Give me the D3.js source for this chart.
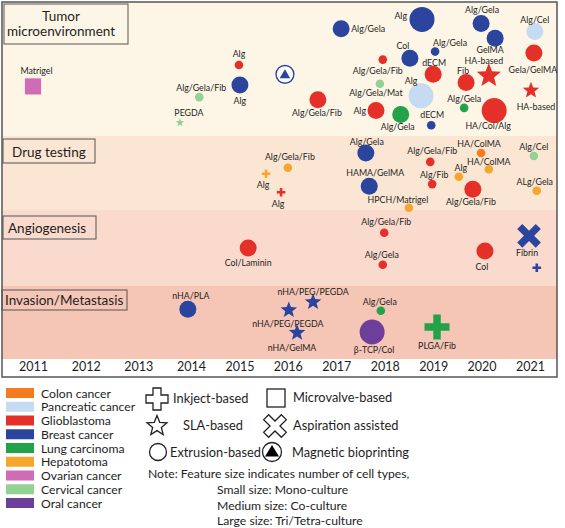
<!DOCTYPE html>
<html><head><meta charset="utf-8">
<script src="https://cdn.jsdelivr.net/npm/d3@7"></script>
<style>body{margin:0;background:#fff} svg{display:block} text{font-family:Lato,"Open Sans",sans-serif}</style>
</head><body><svg id="c" width="565" height="528"></svg>
<script>
// ---------------- DATA ----------------
const yearTicks = [2011,2012,2013,2014,2015,2016,2017,2018,2019,2020,2021];
const applications = ["Tumor microenvironment","Drug testing","Angiogenesis","Invasion/Metastasis"];
const cancerTypes = ["Colon cancer","Pancreatic cancer","Glioblastoma","Breast cancer","Lung carcinoma","Hepatotoma","Ovarian cancer","Cervical cancer","Oral cancer"];
const techniques = ["Inkject-based","Microvalve-based","SLA-based","Aspiration assisted","Extrusion-based","Magnetic bioprinting"];
const cultures = ["Mono-culture","Co-culture","Tri/Tetra-culture"];
const noteLines = ["Note: Feature size indicates number of cell types,","Small size: Mono-culture","Medium size: Co-culture","Large size: Tri/Tetra-culture"];

// records: [label, year, lane within band (0 top .. 1 bottom), cancer, technique, culture index]
const tumorMicroenvironment = [
 ["Matrigel",2011.0,0.63,"Ovarian cancer","Microvalve-based",1],
 ["PEGDA",2013.79,0.90,"Cervical cancer","SLA-based",0],
 ["Alg/Gela/Fib",2014.17,0.71,"Cervical cancer","Extrusion-based",0],
 ["Alg",2014.99,0.47,"Glioblastoma","Extrusion-based",0],
 ["Alg",2015.01,0.62,"Breast cancer","Extrusion-based",1],
 ["",2015.94,0.54,"Breast cancer","Magnetic bioprinting",1],
 ["Alg/Gela",2017.10,0.20,"Breast cancer","Extrusion-based",1],
 ["Alg/Gela/Fib",2016.62,0.73,"Glioblastoma","Extrusion-based",1],
 ["Alg",2017.82,0.81,"Glioblastoma","Extrusion-based",1],
 ["Alg",2018.77,0.13,"Breast cancer","Extrusion-based",2],
 ["Col",2018.52,0.42,"Breast cancer","Extrusion-based",1],
 ["Alg/Gela/Fib",2017.96,0.43,"Glioblastoma","Extrusion-based",0],
 ["Alg/Gela/Mat",2017.90,0.61,"Cervical cancer","Extrusion-based",0],
 ["Alg/Gela",2018.33,0.84,"Lung carcinoma","Extrusion-based",1],
 ["Alg",2018.75,0.70,"Pancreatic cancer","Extrusion-based",2],
 ["dECM",2018.96,0.92,"Breast cancer","Extrusion-based",0],
 ["Alg/Gela",2019.04,0.37,"Breast cancer","Extrusion-based",0],
 ["dECM",2019.00,0.54,"Glioblastoma","Extrusion-based",1],
 ["Alg/Gela",2019.99,0.16,"Breast cancer","Extrusion-based",1],
 ["GelMA",2020.28,0.27,"Breast cancer","Extrusion-based",1],
 ["Fib",2019.68,0.60,"Glioblastoma","Extrusion-based",1],
 ["HA-based",2020.15,0.55,"Glioblastoma","SLA-based",2],
 ["Alg/Gela",2019.64,0.79,"Lung carcinoma","Extrusion-based",0],
 ["HA/Col/Alg",2020.26,0.81,"Glioblastoma","Extrusion-based",2],
 ["Alg/Cel",2021.10,0.22,"Pancreatic cancer","Extrusion-based",1],
 ["Gela/GelMA",2021.08,0.38,"Glioblastoma","Extrusion-based",1],
 ["HA-based",2021.02,0.66,"Glioblastoma","SLA-based",1]
];
const drugTesting = [
 ["Alg",2015.55,0.51,"Hepatotoma","Inkject-based",0],
 ["Alg",2015.86,0.76,"Glioblastoma","Inkject-based",0],
 ["Alg/Gela/Fib",2016.00,0.43,"Hepatotoma","Extrusion-based",0],
 ["Alg/Gela",2017.61,0.23,"Breast cancer","Extrusion-based",1],
 ["HAMA/GelMA",2017.68,0.68,"Breast cancer","Extrusion-based",1],
 ["HPCH/Matrigel",2018.50,0.97,"Hepatotoma","Extrusion-based",0],
 ["Alg/Gela/Fib",2018.94,0.35,"Glioblastoma","Extrusion-based",0],
 ["Alg/Fib",2018.98,0.65,"Glioblastoma","Extrusion-based",0],
 ["Alg",2019.53,0.55,"Hepatotoma","Extrusion-based",0],
 ["Alg/Gela/Fib",2019.82,0.72,"Glioblastoma","Extrusion-based",1],
 ["HA/ColMA",2019.99,0.23,"Colon cancer","Extrusion-based",0],
 ["HA/ColMA",2020.15,0.45,"Hepatotoma","Extrusion-based",0],
 ["Alg/Cel",2021.08,0.27,"Cervical cancer","Extrusion-based",0],
 ["ALg/Gela",2021.14,0.74,"Hepatotoma","Extrusion-based",0]
];
const angiogenesis = [
 ["Col/Laminin",2015.18,0.50,"Glioblastoma","Extrusion-based",1],
 ["Alg/Gela/Fib",2017.99,0.30,"Glioblastoma","Extrusion-based",0],
 ["Alg/Gela",2017.96,0.72,"Glioblastoma","Extrusion-based",0],
 ["Col",2020.07,0.54,"Glioblastoma","Extrusion-based",1],
 ["Fibrin",2020.98,0.34,"Breast cancer","Aspiration assisted",2],
 ["",2021.14,0.76,"Breast cancer","Inkject-based",0]
];
const invasionMetastasis = [
 ["nHA/PLA",2013.94,0.32,"Breast cancer","Extrusion-based",1],
 ["nHA/PEG/PEGDA",2016.02,0.33,"Breast cancer","SLA-based",1],
 ["nHA/PEG/PEGDA",2016.52,0.22,"Breast cancer","SLA-based",1],
 ["nHA/GelMA",2016.19,0.64,"Breast cancer","SLA-based",1],
 ["Alg/Gela",2017.92,0.34,"Lung carcinoma","Extrusion-based",0],
 ["β-TCP/Col",2017.74,0.63,"Oral cancer","Extrusion-based",2],
 ["PLGA/Fib",2019.08,0.56,"Lung carcinoma","Inkject-based",2]
];

// ---------------- LAYOUT / STYLE ----------------
const labelLayout = [
 [[3.5,-15.5,"middle"],[9,-10,"middle"],[2,-10,"middle"],[0,-11,"middle"],[0,15,"middle"],null,
  [10,0,"start"],[-1,13,"middle"],[-10,0,"end"],[-15,-4,"end"],[-7,-13,"middle"],[-5,11,"middle"],
  [-4,8.5,"middle"],[-3,12,"middle"],[-10,-15,"middle"],[1,-11,"middle"],[15,-9,"middle"],[1,-12,"middle"],
  [1,-14,"middle"],[-5,11.3,"middle"],[-3,-12,"middle"],[-5,-15.2,"middle"],[0,-9,"middle"],[-6,15,"middle"],
  [0,-12,"middle"],[-1,17,"middle"],[5,16,"middle"]],
 [[-3,11,"middle"],[-3,11,"middle"],[2,-11,"middle"],[1,-12,"middle"],[6,-14,"middle"],[-11,-8,"middle"],
  [2,-11,"middle"],[2,-10,"middle"],[2,-9,"middle"],[-2,12,"middle"],[-2,-10,"middle"],[0,-8,"middle"],
  [0,-9,"middle"],[-2,-9,"middle"]],
 [[0,14,"middle"],[2,-11,"middle"],[-1,-10,"middle"],[-3,15,"middle"],[-2,17,"middle"],null],
 [[3,-14,"middle"],[-1,13,"middle"],[0,-11,"middle"],[-5,15,"middle"],[-1,-9,"middle"],[2,18,"middle"],[0,19,"middle"]]
];
const bandEdges = [2,136,210,286,359];
const bandFills = ["#fdf6e6","#fbe6d4","#f9dacd","#f5c5b5"];
const cancerColors = ["#f47b20","#c4dbf2","#e5302a","#2b459e","#23a349","#f6a62a","#cf6cb3","#92d294","#6e3e9b"];

const svg = d3.select("#c");
const x = d3.scaleLinear().domain([2011,2014,2021]).range([33,191,530]);
const y = d3.scaleLinear().domain([0,1,2,3,4]).range(bandEdges);
const color = d3.scaleOrdinal().domain(cancerTypes).range(cancerColors);
const rScale = d3.scaleOrdinal().domain([0,1,2]).range([4.3,8.5,12.5]);

function starPath(R, ri){
  const pts=[];
  for(let i=0;i<10;i++){const a=-Math.PI/2+i*Math.PI/5; const rr=i%2?ri:R; pts.push([rr*Math.cos(a),rr*Math.sin(a)]);}
  return "M"+pts.map(p=>p[0].toFixed(2)+","+p[1].toFixed(2)).join("L")+"Z";
}
function plusPath(h,t){
  const a=t/2;
  return `M${-a},${-h}H${a}V${-a}H${h}V${a}H${a}V${h}H${-a}V${a}H${-h}V${-a}H${-a}Z`;
}

svg.append("rect").attr("x",0).attr("y",0).attr("width",565).attr("height",528).attr("fill","#fff");
svg.selectAll("rect.band").data(applications).join("rect").attr("class","band")
  .attr("x",2).attr("width",555).attr("y",(d,i)=>y(i)).attr("height",(d,i)=>y(i+1)-y(i))
  .attr("fill",(d,i)=>bandFills[i]);
svg.append("rect").attr("x",2).attr("y",2).attr("width",555).attr("height",375)
  .attr("fill","none").attr("stroke","#555").attr("stroke-width",1.5);

const titleBoxes = [
  {r:[4,4,124,40], tx:61, ty:[15.5,31], anchor:"middle"},
  {r:[3,139,92,24], tx:12, ty:[152], anchor:"start"},
  {r:[3,216,93,23], tx:8, ty:[227.5], anchor:"start"},
  {r:[2,290,125,20], tx:5, ty:[300], anchor:"start"}
];
titleBoxes.forEach((b,i)=>{
  svg.append("rect").attr("x",b.r[0]).attr("y",b.r[1]).attr("width",b.r[2]).attr("height",b.r[3])
    .attr("fill","none").attr("stroke","#555").attr("stroke-width",1);
  const words = applications[i]==="Tumor microenvironment" ? ["Tumor","microenvironment"] : [applications[i]];
  words.forEach((w,j)=>svg.append("text").attr("x",b.tx).attr("y",b.ty[j]).attr("text-anchor",b.anchor)
    .attr("dominant-baseline","central").attr("font-size",13.5).attr("fill","#1e1e1e").text(w));
});

const xAxis = d3.axisBottom(x).tickValues(yearTicks).tickFormat(d3.format("d")).tickSize(0).tickPadding(0);
const ax = svg.append("g").attr("transform","translate(0,362)").call(xAxis);
ax.select(".domain").remove();
ax.selectAll("text").attr("font-size",12.5).attr("fill","#1e1e1e").attr("font-family","Lato, sans-serif");

const bands = [tumorMicroenvironment, drugTesting, angiogenesis, invasionMetastasis];
const gMarks = svg.append("g"), gLabels = svg.append("g");
bands.forEach((recs,bi)=>{
  recs.forEach((d,i)=>{
    const [label,yr,lane,cancer,tech,cult] = d;
    const cx = x(yr), cy = y(bi+lane), r = rScale(cult), c = color(cancer);
    const g = gMarks.append("g").attr("transform",`translate(${cx},${cy})`);
    if(tech==="Extrusion-based") g.append("circle").attr("r",r).attr("fill",c);
    else if(tech==="SLA-based") g.append("path").attr("d",starPath(r*1.02,r*0.44)).attr("fill",c);
    else if(tech==="Inkject-based") g.append("path").attr("d",plusPath(r,r*0.6)).attr("fill",c);
    else if(tech==="Microvalve-based") g.append("rect").attr("x",-r*0.95).attr("y",-r*0.95).attr("width",r*1.9).attr("height",r*1.9).attr("fill",c);
    else if(tech==="Aspiration assisted") g.append("path").attr("d",plusPath(r*1.05,r*0.58)).attr("transform","rotate(45)").attr("fill",c);
    else if(tech==="Magnetic bioprinting"){
      g.append("circle").attr("r",r*1.05).attr("fill","#fffdf8").attr("stroke",c).attr("stroke-width",1.4);
      g.append("path").attr("d",`M0,${-r*0.6}L${r*0.62},${r*0.45}L${-r*0.62},${r*0.45}Z`).attr("fill",c);
    }
    const L = labelLayout[bi][i];
    if(label && L){
      gLabels.append("text").attr("x",cx+L[0]).attr("y",cy+L[1]).attr("text-anchor",L[2])
        .attr("dominant-baseline","central").attr("font-size",8.8).attr("fill","#1e1e1e").text(label);
    }
  });
});

const lg = svg.append("g");
cancerTypes.forEach((t,i)=>{
  const yy = 393 + i*13.75;
  lg.append("rect").attr("x",6).attr("y",yy-5).attr("width",28).attr("height",10).attr("fill",color(t));
  lg.append("text").attr("x",41).attr("y",yy).attr("dominant-baseline","central").attr("font-size",12.2).attr("fill","#1e1e1e").text(t);
});
const techLayout = [
  {t:"Inkject-based", cx:157, cy:399, tx:173, ty:398},
  {t:"Microvalve-based", cx:276, cy:398, tx:293, ty:397},
  {t:"SLA-based", cx:157, cy:426, tx:183, ty:425},
  {t:"Aspiration assisted", cx:275, cy:426, tx:293, ty:425},
  {t:"Extrusion-based", cx:158, cy:452, tx:170, ty:452},
  {t:"Magnetic bioprinting", cx:272, cy:452, tx:292, ty:452}
];
techLayout.forEach(o=>{
  const g = lg.append("g").attr("transform",`translate(${o.cx},${o.cy})`);
  if(o.t==="Inkject-based") g.append("path").attr("d",plusPath(11,8));
  else if(o.t==="Microvalve-based") g.append("rect").attr("x",-9).attr("y",-9).attr("width",18).attr("height",18);
  else if(o.t==="SLA-based") g.append("path").attr("d",starPath(10.5,4.6));
  else if(o.t==="Aspiration assisted") g.append("path").attr("d",plusPath(12.5,7)).attr("transform","rotate(45)");
  else if(o.t==="Extrusion-based") g.append("circle").attr("r",8.5);
  else { g.append("circle").attr("r",9.5); }
  g.selectAll("*").attr("fill","#fff").attr("stroke","#222").attr("stroke-width",1.3);
  if(o.t==="Magnetic bioprinting") g.append("path").attr("d","M0,-7L7,4.5L-7,4.5Z").attr("fill","#000");
  lg.append("text").attr("x",o.tx).attr("y",o.ty).attr("dominant-baseline","central").attr("font-size",12.8).attr("fill","#1e1e1e").text(o.t);
});
const noteLayout = [[148,473],[217,489.5],[217,505],[217,520]];
noteLines.forEach((s,i)=>{
  lg.append("text").attr("x",noteLayout[i][0]).attr("y",noteLayout[i][1]).attr("dominant-baseline","central")
    .attr("font-size",12.2).attr("fill","#1e1e1e").text(s);
});
</script></body></html>
